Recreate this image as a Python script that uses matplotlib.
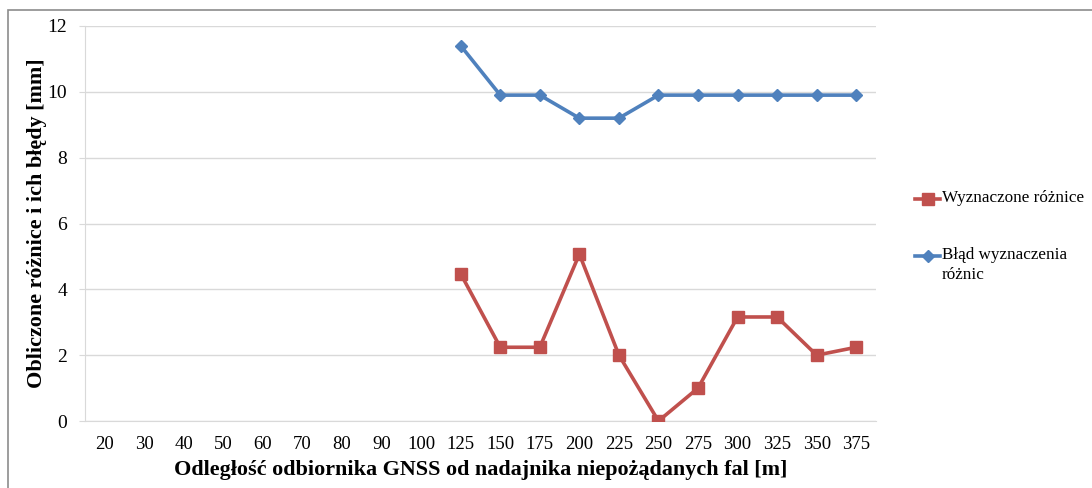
import matplotlib
matplotlib.use("Agg")
import matplotlib.pyplot as plt
from matplotlib.patches import Rectangle
from matplotlib.lines import Line2D
import numpy as np

categories = ["20", "30", "40", "50", "60", "70", "80", "90", "100", "125", "150",
              "175", "200", "225", "250", "275", "300", "325", "350", "375"]
roznice = [None]*9 + [4.47, 2.24, 2.24, 5.07, 2.0, 0.0, 1.0, 3.16, 3.16, 2.0, 2.24]
blad = [None]*9 + [11.4, 9.9, 9.9, 9.2, 9.2, 9.9, 9.9, 9.9, 9.9, 9.9, 9.9]
yticks = [0, 2, 4, 6, 8, 10, 12]
legend_labels = ["Wyznaczone różnice", "Błąd wyznaczenia\nróżnic"]

plt.rcParams['font.family'] = ['Liberation Serif', 'DejaVu Serif']

RED = "#C0504D"
BLUE = "#4F81BD"
GRID = "#D9D9D9"

fig = plt.figure(figsize=(10.92, 4.88), dpi=100)
W, H = 1092, 488
ax = fig.add_axes([85/W, 1-421/H, (876-85)/W, (421-26)/H])

x = np.arange(len(categories))
r = np.array([np.nan if v is None else v for v in roznice], dtype=float)
b = np.array([np.nan if v is None else v for v in blad], dtype=float)

red_style = dict(color=RED, lw=2.6, marker='s', ms=8.5)
blue_style = dict(color=BLUE, lw=2.6, marker='D', ms=6.5)

ax.plot(x, r, zorder=3, solid_joinstyle='round', **red_style)
ax.plot(x, b, zorder=3, solid_joinstyle='round', **blue_style)

ax.set_xlim(-0.5, len(categories)-0.5)
ax.set_ylim(0, 12)
ax.set_xticks(x)
ax.set_xticklabels(categories, fontsize=13.5)
ax.set_yticks(yticks)
ax.set_yticklabels([str(t) for t in yticks], fontsize=14)
ax.yaxis.grid(True, color=GRID, lw=1)
ax.set_axisbelow(True)
for s in ['top', 'right']:
    ax.spines[s].set_visible(False)
ax.spines['left'].set_color(GRID)
ax.spines['bottom'].set_color(GRID)
ax.tick_params(axis='y', length=4, color=GRID, pad=9)
ax.tick_params(axis='x', length=0, pad=11)

ax.set_xlabel("Odległość odbiornika GNSS od nadajnika niepożądanych fal [m]",
              fontsize=15.9, fontweight='bold', labelpad=5)
ax.set_ylabel("Obliczone różnice i ich błędy [mm]", fontsize=15.9,
              fontweight='bold', labelpad=0)

# legend (drawn manually to align handle with first line of wrapped label)
def legend_entry(y_px, style, label):
    x0, x1 = 915/W, 940/W
    yy = 1 - y_px/H
    fig.add_artist(Line2D([x0, x1], [yy, yy], color=style['color'], lw=style['lw'],
                          transform=fig.transFigure))
    fig.add_artist(Line2D([(x0+x1)/2], [yy], color=style['color'], lw=0,
                          marker=style['marker'], ms=style['ms'],
                          transform=fig.transFigure))
    fig.text(942/W, yy + 9/H, label, fontsize=12.3, va='top', ha='left',
             linespacing=1.35)

legend_entry(199, red_style, legend_labels[0])
legend_entry(256, blue_style, legend_labels[1])

fig.patches.append(Rectangle((8/W, -0.05), 1.2, 1-10/H+0.05,
                             transform=fig.transFigure, fill=False,
                             edgecolor="#8C8C8C", lw=1.2))

fig.savefig("out.png", dpi=100)
